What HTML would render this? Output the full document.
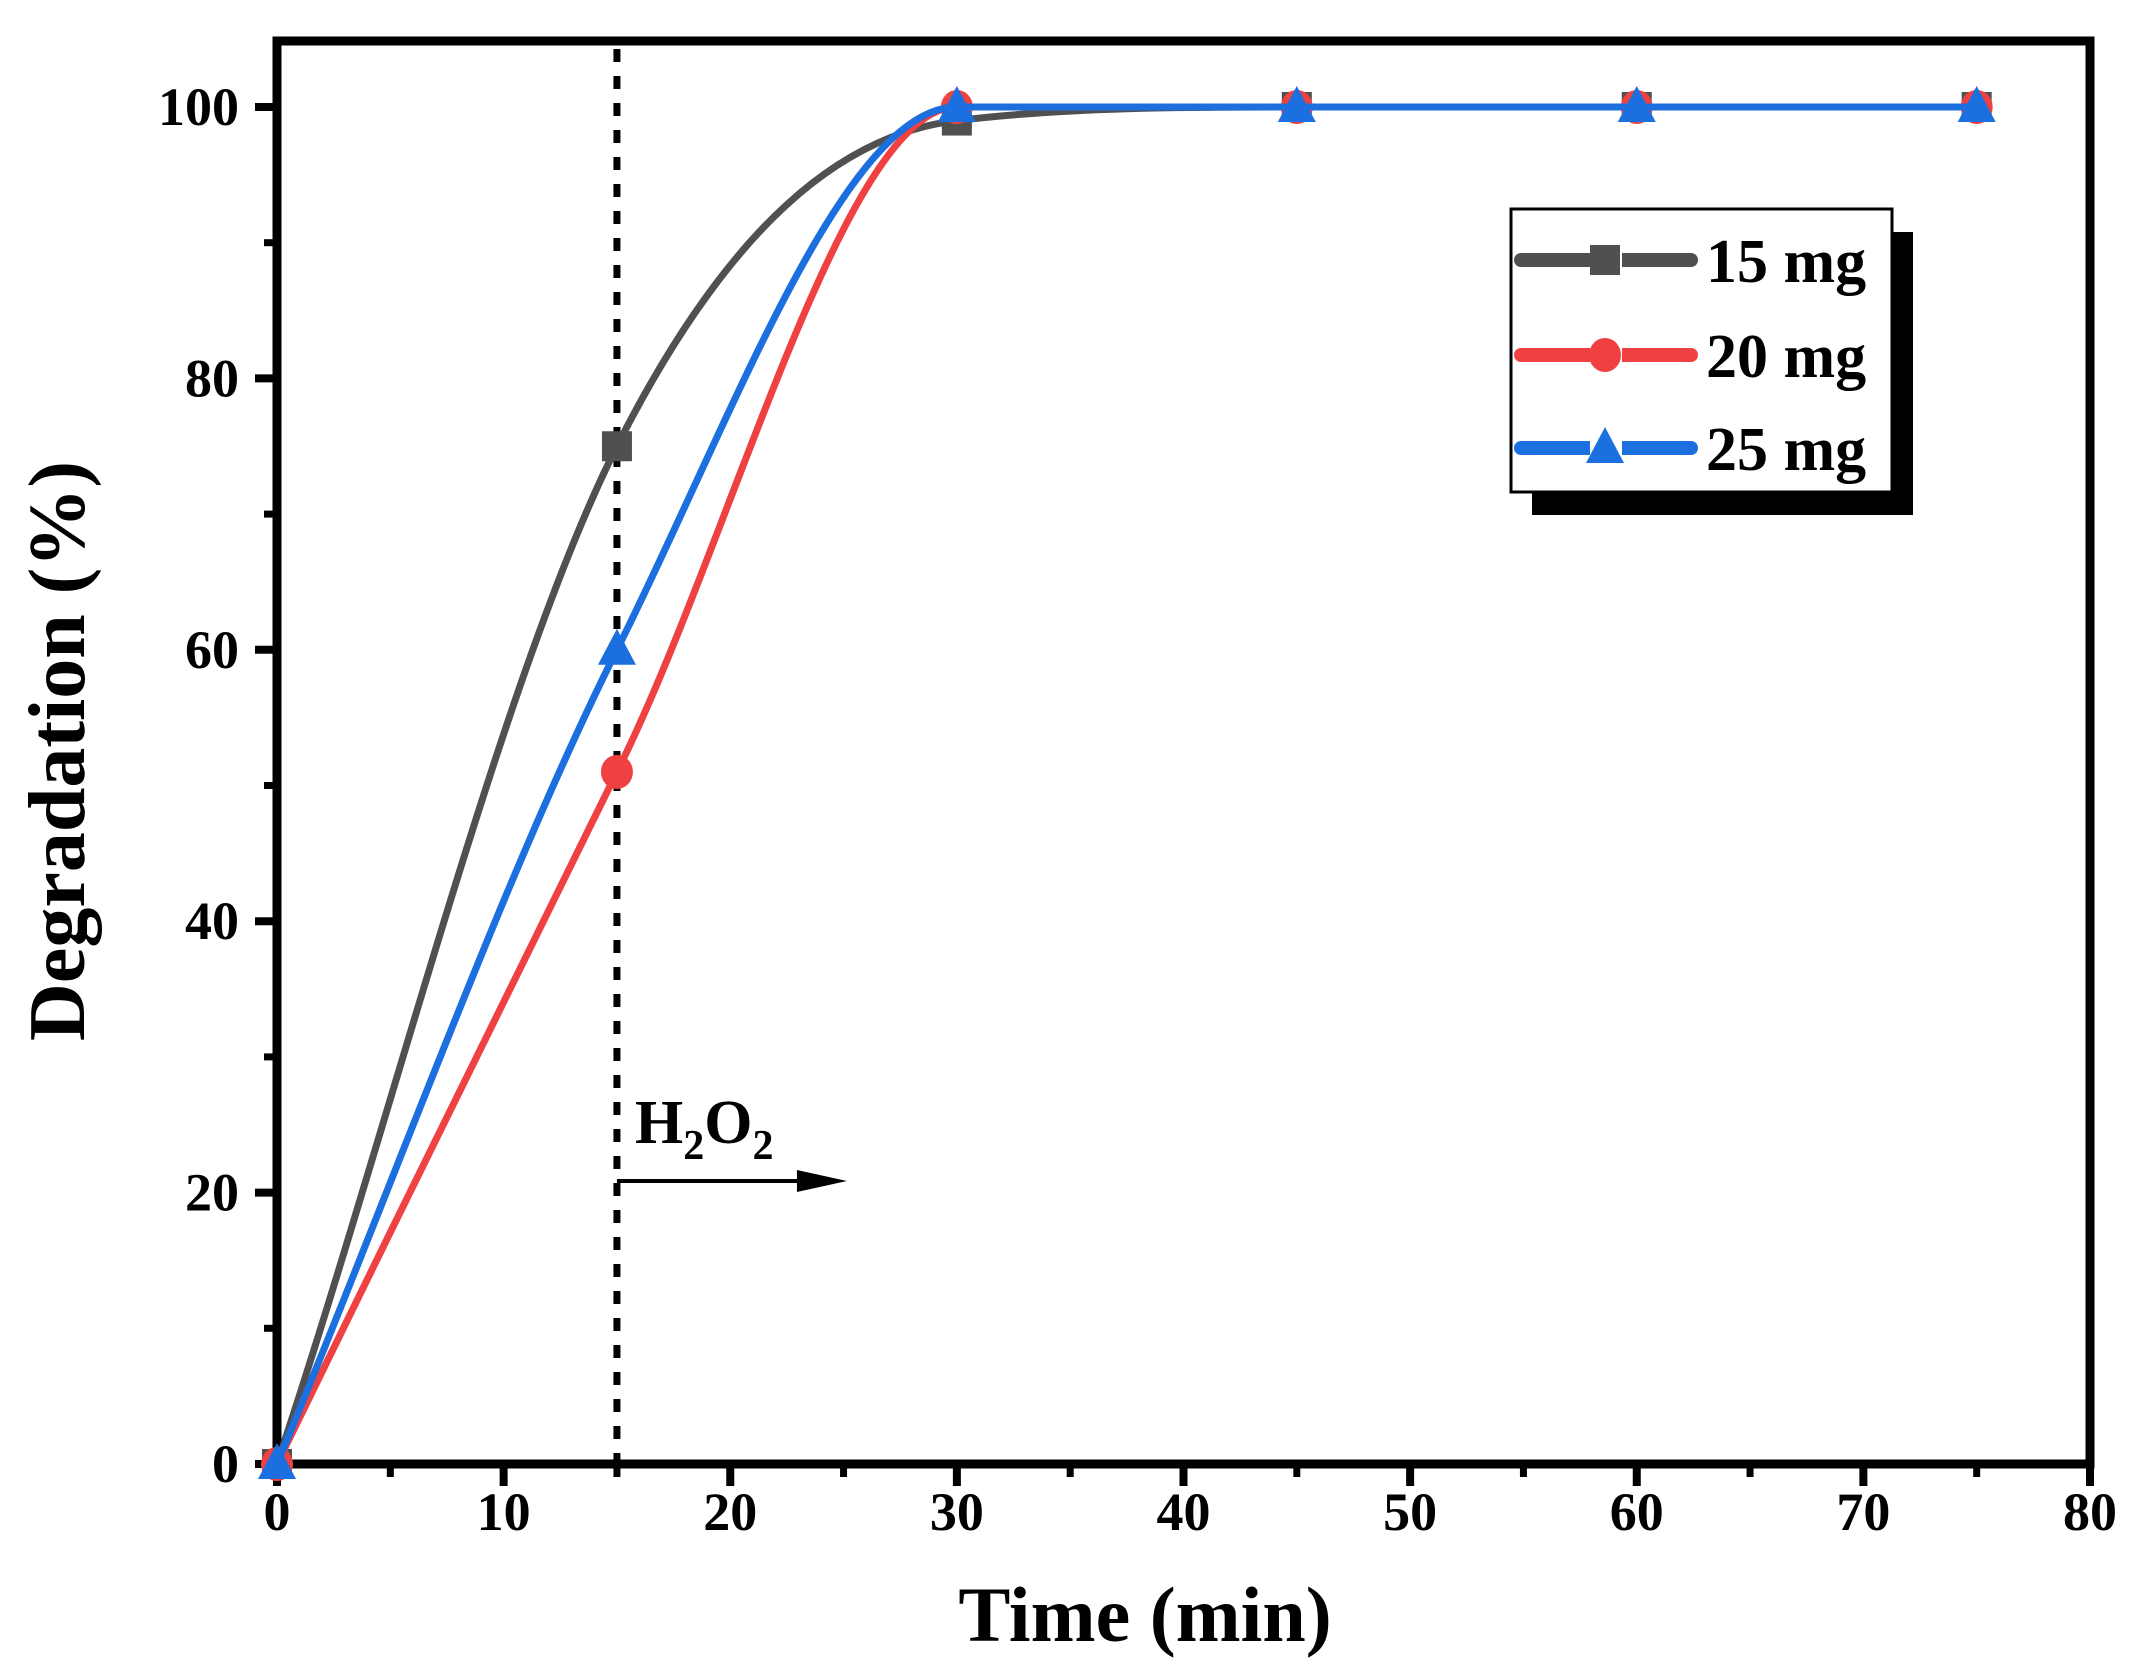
<!DOCTYPE html>
<html><head><meta charset="utf-8"><style>
html,body{margin:0;padding:0;background:#fff;}
svg{display:block;font-family:"Liberation Serif",serif;font-weight:bold;}
</style></head><body>
<svg id="chart" width="2142" height="1673" viewBox="0 0 2142 1673" xmlns="http://www.w3.org/2000/svg">
</svg>
<script>
const times = [0, 15, 30, 45, 60, 75];
const seriesNames = ["15 mg", "20 mg", "25 mg"];
const series15 = [0, 75, 99, 100, 100, 100];
const series20 = [0, 51, 100, 100, 100, 100];
const series25 = [0, 60, 100, 100, 100, 100];
const xTicks = [0, 10, 20, 30, 40, 50, 60, 70, 80];
const yTicks = [0, 20, 40, 60, 80, 100];
const h2o2Time = 15;

const L=277,R=2090,T=41,B=1464;
const X0=0,X1=80, Y0=0;
const yPer=(B-107)/100;
function xs(v){return L+(v-X0)/(X1-X0)*(R-L);}
function ys(v){return B-(v-Y0)*yPer;}
const svg=document.getElementById('chart');
const NS='http://www.w3.org/2000/svg';
function mk(tag,attrs,parent){const e=document.createElementNS(NS,tag);for(const k in attrs)e.setAttribute(k,attrs[k]);(parent||svg).appendChild(e);return e;}

const dl=mk('line',{x1:xs(h2o2Time),x2:xs(h2o2Time),y1:T+8,y2:B,stroke:'#000','stroke-width':7,'stroke-dasharray':'13 14'});



xTicks.forEach((v,i)=>{
  const t=mk('line',{x1:xs(v),x2:xs(v),y1:B,y2:B+22,stroke:'#000','stroke-width':8});
  
  
  const lb=mk('text',{x:xs(v),y:B+66,'text-anchor':'middle','font-size':54});
  lb.textContent=v;
  
  
  if(i<xTicks.length-1){
    const m=mk('line',{x1:xs(v+5),x2:xs(v+5),y1:B,y2:B+13,stroke:'#000','stroke-width':7});
    
    
  }
});
yTicks.forEach((v,i)=>{
  const t=mk('line',{x1:L-22,x2:L,y1:ys(v),y2:ys(v),stroke:'#000','stroke-width':8});
  
  
  const lb=mk('text',{x:L-38,y:ys(v)+18,'text-anchor':'end','font-size':54});
  lb.textContent=v;
  
  
  if(i<yTicks.length-1){
    const m=mk('line',{x1:L-13,x2:L,y1:ys(v+10),y2:ys(v+10),stroke:'#000','stroke-width':7});
    
    
  }
});

const fr=mk('rect',{x:L,y:T,width:R-L,height:B-T,fill:'none',stroke:'#000','stroke-width':9});



const ar=mk('line',{x1:xs(h2o2Time),x2:xs(h2o2Time)+185,y1:1181,y2:1181,stroke:'#000','stroke-width':4});


const ah=mk('polygon',{points:`${xs(h2o2Time)+180},1170 ${xs(h2o2Time)+230},1181 ${xs(h2o2Time)+180},1192`,fill:'#000'});


const ht=mk('text',{x:635,y:1143,'font-size':62});
ht.innerHTML='H<tspan font-size="42" dy="16">2</tspan><tspan dy="-16">O</tspan><tspan font-size="42" dy="16">2</tspan>';



const colors=['#505050','#ef4141','#1b6fdf'];
const data=[series15,series20,series25];
// monotone cubic (Fritsch-Carlson)
function monotone(xv,yv){
  const n=xv.length,d=[],m=[];
  for(let i=0;i<n-1;i++) d.push((yv[i+1]-yv[i])/(xv[i+1]-xv[i]));
  m[0]=d[0]; m[n-1]=d[n-2];
  for(let i=1;i<n-1;i++){ m[i]=(d[i-1]*d[i]<=0)?0:(d[i-1]+d[i])/2; }
  for(let i=0;i<n-1;i++){
    if(d[i]===0){m[i]=0;m[i+1]=0;continue;}
    const a=m[i]/d[i],b=m[i+1]/d[i],s=a*a+b*b;
    if(s>9){const t=3/Math.sqrt(s);m[i]=t*a*d[i];m[i+1]=t*b*d[i];}
  }
  let p=`M${xs(xv[0])},${ys(yv[0])}`;
  for(let i=0;i<n-1;i++){
    const h=xv[i+1]-xv[i];
    p+=` C${xs(xv[i]+h/3)},${ys(yv[i]+m[i]*h/3)} ${xs(xv[i+1]-h/3)},${ys(yv[i+1]-m[i+1]*h/3)} ${xs(xv[i+1])},${ys(yv[i+1])}`;
  }
  return p;
}
function marker(k,x,y,g){
  let m;
  if(k===0) m=mk('rect',{x:x-15,y:y-15,width:30,height:30,fill:colors[0]},g);
  else if(k===1) m=mk('ellipse',{cx:x,cy:y,rx:16,ry:17,fill:colors[1]},g);
  else m=mk('polygon',{points:`${x},${y-21} ${x+19},${y+15} ${x-19},${y+15}`,fill:colors[2]},g);
  return m;
}
data.forEach((vals,k)=>{
  const g=mk('g',{});
  
  
  const p=mk('path',{d:monotone(times,vals),fill:'none',stroke:colors[k],'stroke-width':7,'stroke-linejoin':'round'},g);
  
  
  times.forEach((t,i)=>{
    const m=marker(k,xs(t),ys(vals[i]),g);
    
    
  });
});

const lg=mk('g',{});


mk('rect',{x:1532,y:232,width:381,height:283,fill:'#000'},lg);
mk('rect',{x:1511,y:209,width:381,height:283,fill:'#fff',stroke:'#000','stroke-width':3},lg);
const ly=[260,355,448];
seriesNames.forEach((n,k)=>{
  const e=mk('g',{},lg);
  
  
  mk('line',{x1:1521,x2:1691,y1:ly[k],y2:ly[k],stroke:colors[k],'stroke-width':14,'stroke-linecap':'round'},e);
  mk('line',{x1:1590,x2:1622,y1:ly[k],y2:ly[k],stroke:'#fff','stroke-width':16},e);
  marker(k,1605,ly[k],e);
  const t=mk('text',{x:1706,y:ly[k]+22,'font-size':62},e);
  t.textContent=n;
});

const xt=mk('text',{x:1145,y:1641,'text-anchor':'middle','font-size':78});
xt.textContent='Time (min)';


const yt=mk('text',{x:0,y:0,'text-anchor':'middle','font-size':80,transform:'translate(84,751) rotate(-90)'});
yt.textContent='Degradation (%)';


</script>
</body></html>
